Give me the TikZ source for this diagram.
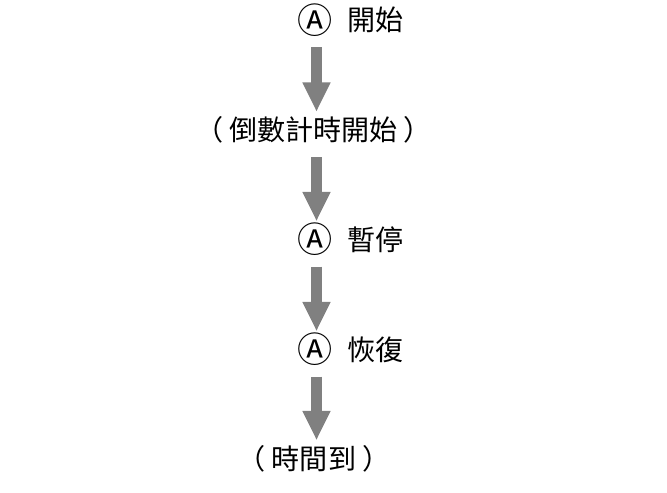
\documentclass[tikz,border=0pt]{standalone}
\usepackage{fontspec}
\newfontfamily\cjk{Noto Sans CJK TC}
\newfontfamily\cjkp[RawFeature=+palt]{Noto Sans CJK TC}
\usepackage{tikz}
\usetikzlibrary{arrows.meta, positioning, calc}
\usepackage{xcolor}

\newcommand{\btn}{\makebox[1.3cm][c]{\raisebox{-1.5pt}{\fontsize{20}{20}\selectfont Ⓐ}}}
\newcommand{\pl}{\makebox[1em][c]{\cjkp （}}
\newcommand{\pr}{\makebox[1em][c]{\cjkp ）}}

\begin{document}
\begin{tikzpicture}[x=0.02cm, y=-0.02cm,
    state/.style={font=\cjk\fontsize{16}{19}\selectfont, inner sep=0pt, text height=0.88em, text depth=0.12em},
    flow/.style={-{Triangle[width=0.52cm, length=0.59cm]}, line width=0.23cm, gray, shorten <=0.28cm, shorten >=0.26cm}]
    \useasboundingbox (0, 0) rectangle (667, 493);

    \coordinate (axis) at (316.5, 0);

    \node[state, anchor=west] (start) at (282.5, 24) {\btn 開始};
    \node[state] (count) at (313.5, 134) {\pl 倒數計時開始\pr};
    \node[state, anchor=west] (pause) at (282.5, 243.5) {\btn 暫停};
    \node[state, anchor=west] (resume) at (282.5, 353.5) {\btn 恢復};
    \node[state] (done) at (314, 462.5) {\pl 時間到\pr};

    \draw[flow] (start.south -| axis) -- (count.north -| axis);
    \draw[flow] (count.south -| axis) -- (pause.north -| axis);
    \draw[flow] (pause.south -| axis) -- (resume.north -| axis);
    \draw[flow] (resume.south -| axis) -- (done.north -| axis);

  \end{tikzpicture}
\end{document}
